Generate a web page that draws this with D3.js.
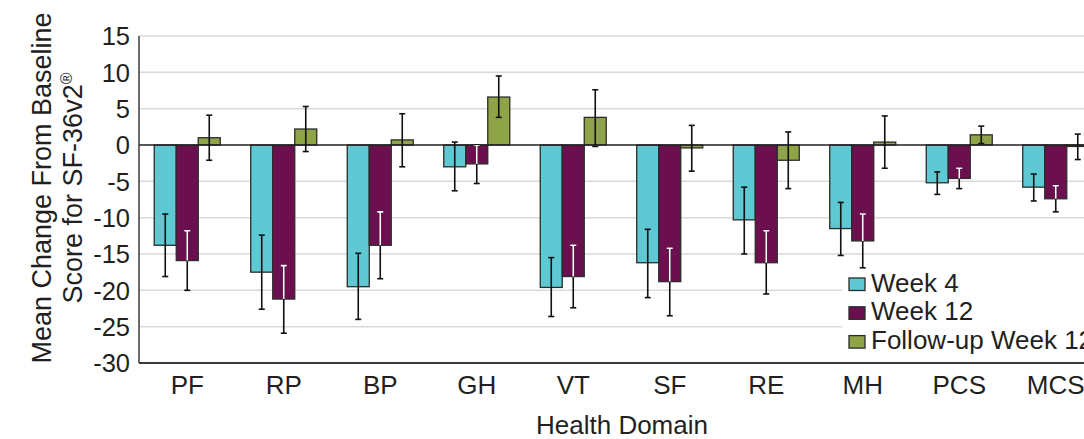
<!DOCTYPE html>
<html>
<head>
<meta charset="utf-8">
<script src="https://cdn.jsdelivr.net/npm/d3@7"></script>
<style>
  body { margin: 0; background: #fff; }
  text { font-family: "Liberation Sans", Arial, sans-serif; fill: #231f20; }
</style>
</head>
<body>
<div id="chart"></div>
<script>
// SF-36v2 change from baseline

//data
var domains = ["PF", "RP", "BP", "GH", "VT", "SF", "RE", "MH", "PCS", "MCS"];
var seriesNames = ["Week 4", "Week 12", "Follow-up Week 12"];

var week4 =     [-13.8, -17.5, -19.5, -3.0, -19.6, -16.2, -10.3, -11.5, -5.2, -5.8];
var week4Lo =   [-18.1, -22.6, -24.0, -6.3, -23.6, -21.0, -15.0, -15.2, -6.8, -7.7];
var week4Hi =   [ -9.5, -12.4, -14.9,  0.4, -15.5, -11.6,  -5.8,  -7.9, -3.7, -4.0];

var week12 =    [-15.9, -21.2, -13.8, -2.6, -18.1, -18.8, -16.2, -13.2, -4.6, -7.4];
var week12Lo =  [-20.0, -25.9, -18.4, -5.3, -22.4, -23.5, -20.5, -16.9, -6.0, -9.2];
var week12Hi =  [-11.8, -16.6,  -9.2,  0.0, -13.8, -14.2, -11.8,  -9.5, -3.2, -5.6];

var follow =    [ 1.0,  2.2,  0.7,  6.6,  3.8, -0.4, -2.1,  0.4,  1.4, -0.2];
var followLo =  [-2.1, -0.9, -3.0,  3.8, -0.2, -3.6, -6.0, -3.2,  0.2, -2.0];
var followHi =  [ 4.1,  5.3,  4.3,  9.5,  7.6,  2.7,  1.8,  4.0,  2.6,  1.5];

var yTicks = [15, 10, 5, 0, -5, -10, -15, -20, -25, -30];

var colors = ["#5ec8d3", "#6b0f4e", "#8fa446"];

var series = [
  {name: seriesNames[0], v: week4, lo: week4Lo, hi: week4Hi},
  {name: seriesNames[1], v: week12, lo: week12Lo, hi: week12Hi},
  {name: seriesNames[2], v: follow, lo: followLo, hi: followHi}
];

var W = 1084, H = 439;
var m = {left: 139, top: 36, bottom: 363};

var svg = d3.select("#chart").append("svg")
  .attr("width", W).attr("height", H);

//scales
var y = d3.scaleLinear().domain([-30, 15]).range([m.bottom, m.top]);

var x0 = d3.scaleBand().domain(domains)
  .range([m.left, m.left + 965])
  .paddingInner(0.316).paddingOuter(0.158);

var x1 = d3.scaleBand().domain(d3.range(series.length))
  .range([0, x0.bandwidth()]);

// grid lines
svg.append("g").selectAll("line")
  .data(yTicks.filter(function(d) { return d > -30 && d !== 0; }))
  .enter().append("line")
  .attr("x1", m.left).attr("x2", W)
  .attr("y1", function(d) { return y(d); })
  .attr("y2", function(d) { return y(d); })
  .attr("stroke", "#d9d9d9").attr("stroke-width", 1.5);

// legend background covers grid lines
var legX = 849, legY = 278, legStep = 28.8;
svg.append("rect")
  .attr("x", legX - 7).attr("y", legY - 8)
  .attr("width", W - legX + 7).attr("height", 92)
  .attr("fill", "#fff");

// y tick labels
svg.append("g").selectAll("text")
  .data(yTicks)
  .enter().append("text")
  .attr("x", 130)
  .attr("y", function(d) { return y(d); })
  .attr("dy", "0.36em")
  .attr("text-anchor", "end")
  .style("font-size", "25.5px")
  .text(function(d) { return d; });

// bars
var rows = [];
series.forEach(function(s, si) {
  domains.forEach(function(dom, i) {
    rows.push({s: si, dom: dom, i: i, v: s.v[i], lo: s.lo[i], hi: s.hi[i]});
  });
});

function bx(d) { return x0(d.dom) + x1(d.s); }

var defs = svg.append("defs");
rows.filter(function(d) { return d.s === 1; }).forEach(function(d) {
  defs.append("clipPath").attr("id", "clip" + d.i)
    .append("rect")
    .attr("x", bx(d)).attr("width", x1.bandwidth())
    .attr("y", Math.min(y(d.v), y(0)))
    .attr("height", Math.abs(y(d.v) - y(0)));
});

svg.append("g").selectAll("rect")
  .data(rows)
  .enter().append("rect")
  .attr("x", bx)
  .attr("width", x1.bandwidth())
  .attr("y", function(d) { return Math.min(y(d.v), y(0)); })
  .attr("height", function(d) { return Math.max(Math.abs(y(d.v) - y(0)), 1); })
  .attr("fill", function(d) { return colors[d.s]; })
  .attr("stroke", "#2b2b2b")
  .attr("stroke-width", 1.3);

// zero line
svg.append("line")
  .attr("x1", m.left).attr("x2", W)
  .attr("y1", y(0)).attr("y2", y(0))
  .attr("stroke", "#231f20").attr("stroke-width", 1.5);

// error bars
function drawErr(g, color) {
  g.append("line")
    .attr("x1", function(d) { return bx(d) + x1.bandwidth() / 2; })
    .attr("x2", function(d) { return bx(d) + x1.bandwidth() / 2; })
    .attr("y1", function(d) { return y(d.hi); })
    .attr("y2", function(d) { return y(d.lo); })
    .attr("stroke", color).attr("stroke-width", 1.6);
  ["hi", "lo"].forEach(function(k) {
    g.append("line")
      .attr("x1", function(d) { return bx(d) + x1.bandwidth() / 2 - 3; })
      .attr("x2", function(d) { return bx(d) + x1.bandwidth() / 2 + 3; })
      .attr("y1", function(d) { return y(d[k]); })
      .attr("y2", function(d) { return y(d[k]); })
      .attr("stroke", color).attr("stroke-width", 1.6);
  });
}

var errs = svg.append("g").selectAll("g")
  .data(rows)
  .enter().append("g");
drawErr(errs, "#111");

var whiteErrs = svg.append("g").selectAll("g")
  .data(rows.filter(function(d) { return d.s === 1; }))
  .enter().append("g")
  .attr("clip-path", function(d) { return "url(#clip" + d.i + ")"; });
drawErr(whiteErrs, "#fff");

// axes lines
svg.append("line")
  .attr("x1", m.left).attr("x2", W)
  .attr("y1", m.bottom).attr("y2", m.bottom)
  .attr("stroke", "#3a3a3a").attr("stroke-width", 2);
svg.append("line")
  .attr("x1", m.left).attr("x2", m.left)
  .attr("y1", m.top).attr("y2", m.bottom)
  .attr("stroke", "#3a3a3a").attr("stroke-width", 1.5);

// x labels
svg.append("g").selectAll("text")
  .data(domains)
  .enter().append("text")
  .attr("x", function(d) { return x0(d) + x0.bandwidth() / 2; })
  .attr("y", 394)
  .attr("text-anchor", "middle")
  .style("font-size", "26px")
  .text(function(d) { return d; });

svg.append("text")
  .attr("x", 622).attr("y", 434)
  .attr("text-anchor", "middle")
  .style("font-size", "26px")
  .text("Health Domain");

// y title
var yt = svg.append("text")
  .attr("transform", "translate(51,188) rotate(-90)")
  .attr("text-anchor", "middle")
  .style("font-size", "27px");
yt.append("tspan").attr("x", 0).attr("dy", 0).text("Mean Change From Baseline");
yt.append("tspan").attr("x", 0).attr("dy", 31).text("Score for SF-36v2");
yt.append("tspan").attr("dy", -10).style("font-size", "16px").text("®");

// legend
var leg = svg.append("g").selectAll("g")
  .data(seriesNames)
  .enter().append("g")
  .attr("transform", function(d, i) { return "translate(" + legX + "," + (legY + i * legStep) + ")"; });

leg.append("rect")
  .attr("width", 16).attr("height", 12.5)
  .attr("fill", function(d, i) { return colors[i]; })
  .attr("stroke", "#2b2b2b").attr("stroke-width", 1.3);

leg.append("text")
  .attr("x", 22).attr("y", 13.5)
  .style("font-size", "26px")
  .text(function(d) { return d; });
</script>
</body>
</html>
